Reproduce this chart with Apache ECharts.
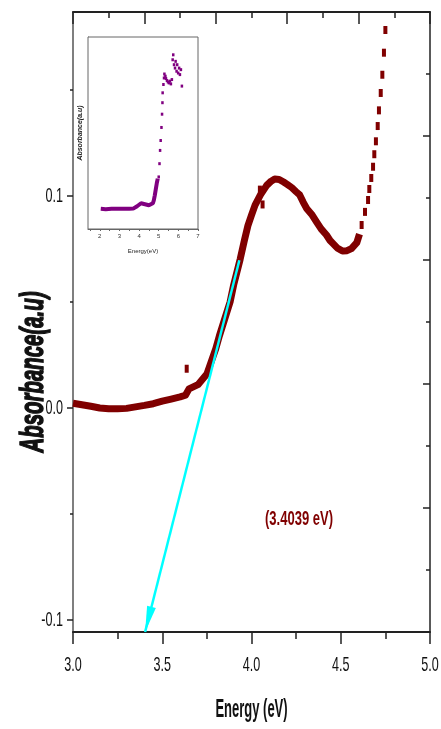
<!DOCTYPE html>
<html><head><meta charset="utf-8">
<script src="https://cdn.jsdelivr.net/npm/echarts@6/dist/echarts.min.js"></script>
<style>html,body{margin:0;padding:0;background:#fff}#c{width:441px;height:729px}</style>
</head><body><div id="c"></div>
<script>
// Main curve (dense part)
const mainEnergy = [3.00,3.05,3.10,3.15,3.20,3.25,3.30,3.35,3.40,3.45,3.50,3.55,3.60,3.63,3.65,3.70,3.75,3.80,3.82,3.85,3.88,3.90,3.936,3.96,3.98,4.00,4.02,4.05,4.085,4.11,4.13,4.155,4.18,4.20,4.225,4.25,4.27,4.29,4.31,4.34,4.365,4.39,4.42,4.44,4.457,4.48,4.51,4.535,4.56,4.59,4.605];
const mainAbs = [0.0022,0.0015,0.0008,0.0,-0.0004,-0.0004,-0.0002,0.0005,0.0012,0.002,0.0032,0.0042,0.0052,0.006,0.009,0.011,0.016,0.028,0.034,0.042,0.05,0.058,0.070,0.079,0.086,0.091,0.0957,0.1005,0.105,0.107,0.108,0.1078,0.1066,0.1055,0.104,0.102,0.1005,0.097,0.094,0.091,0.0877,0.0845,0.0816,0.079,0.0775,0.0755,0.074,0.0742,0.0752,0.078,0.082];
// Main curve (sparse points and outliers)
const sparseEnergy = [4.617,4.636,4.653,4.660,4.671,4.681,4.688,4.697,4.707,4.714,4.724,4.733,4.742,4.750,3.637,4.047,4.062];
const sparseAbs = [0.0863,0.0925,0.0981,0.1033,0.1085,0.1138,0.1197,0.1258,0.1330,0.1404,0.1486,0.1572,0.1676,0.1783,0.0185,0.103,0.096];
// Tangent line (start, end at band gap)
const tangentEnergy = [3.932, 3.4039];
const tangentAbs = [0.0697, -0.1057];
const bandGapLabel = '(3.4039 eV)';
// Inset curve
const insetEnergy = [2.05,2.3,2.6,2.9,3.2,3.5,3.7,3.8,3.9,4.0,4.1,4.2,4.3,4.4,4.5,4.6,4.7,4.75,4.8,4.85,4.9,4.95];
const insetAbs = [1.02,1.0,1.02,1.02,1.02,1.02,1.03,1.07,1.15,1.25,1.3,1.3,1.25,1.2,1.2,1.22,1.3,1.45,1.7,2.0,2.3,2.55];
const insetDotEnergy = [5.0,5.04,5.07,5.10,5.14,5.17,5.19,5.2,5.24,5.27,5.29,5.34,5.37,5.42,5.47,5.52,5.57,5.62,5.67,5.71,5.74,5.78,5.83,5.86,5.91,5.94,5.99,6.04,6.08,6.13,6.18];
const insetDotAbs = [2.63,3.3,3.97,4.47,5.13,5.8,6.38,6.88,7.3,7.63,7.83,7.72,7.6,7.5,7.43,7.38,7.47,7.33,7.55,8.55,8.8,8.3,8.13,8.47,7.97,8.3,7.88,8.13,7.8,8.05,7.22];
// Ticks and titles
const xTicks = [3.0, 3.5, 4.0, 4.5, 5.0];
const yMajorTicks = [-0.1, 0.0, 0.1];
const yMinorTicks = [-0.05, 0.05, 0.15];
const insetXLabels = [2,3,4,5,6,7];
const insetXTicks = [1.5,2,2.5,3,3.5,4,4.5,5,5.5,6,6.5,7];
const insetYTicks = [1,2,3,4,5,6,7,8,9];
const xTitle = 'Energy (eV)';
const yTitle = 'Absorbance(a.u)';

const F = "'Liberation Sans',Arial,sans-serif";
const SQ = 0.6; // horizontal squeeze of the source figure's text
const zip = (a,b) => a.map((v,i)=>[v,b[i]]);
const chart = echarts.init(document.getElementById('c'), null, {renderer:'canvas'});
const YMIN = -0.1057, YMAX = 0.1868;
chart.setOption({
  animation:false,
  backgroundColor:'#fff',
  grid:[
    {left:73, right:11, top:12, bottom:97, outerBoundsMode:'none'},
    {left:88, top:37, width:110, height:192, show:true, borderColor:'#666', borderWidth:1, backgroundColor:'#fff', z:5, outerBoundsMode:'none'}
  ],
  xAxis:[
    {gridIndex:0, type:'value', min:3, max:5, interval:0.5, position:'bottom',
     axisLine:{onZero:false, lineStyle:{color:'#222', width:2}},
     axisTick:{inside:false, length:12, lineStyle:{color:'#222', width:1.5}},
     minorTick:{show:true, splitNumber:2, length:7, lineStyle:{color:'#222', width:1.5}},
     splitLine:{show:false}, axisLabel:{show:false}},
    {gridIndex:0, type:'value', min:0, max:5, interval:1, position:'top',
     axisLine:{onZero:false, lineStyle:{color:'#222', width:2}},
     axisTick:{inside:true, length:12, lineStyle:{color:'#222', width:1.5}},
     minorTick:{show:true, splitNumber:2, length:6, lineStyle:{color:'#222', width:1.5}},
     splitLine:{show:false}, axisLabel:{show:false}},
    {gridIndex:1, type:'value', min:1.4, max:7, position:'bottom',
     axisLine:{onZero:false, lineStyle:{color:'#666', width:1}},
     axisTick:{inside:false, length:2, customValues:insetXTicks, lineStyle:{color:'#666'}},
     splitLine:{show:false},
     axisLabel:{customValues:insetXLabels, fontFamily:F, fontSize:6, margin:4, color:'#333'},
     name:'Energy(eV)', nameLocation:'middle', nameGap:19,
     nameTextStyle:{fontFamily:F, fontSize:6, color:'#222'}}
  ],
  yAxis:[
    {gridIndex:0, type:'value', min:YMIN, max:YMAX, position:'left',
     axisLine:{onZero:false, lineStyle:{color:'#555', width:1.5}},
     axisTick:{inside:false, length:6, customValues:yMajorTicks, lineStyle:{color:'#222', width:1.5}},
     splitLine:{show:false}, axisLabel:{show:false}},
    {gridIndex:0, type:'value', min:0, max:5, interval:1, position:'right',
     axisLine:{onZero:false, lineStyle:{color:'#222', width:1.5}},
     axisTick:{inside:true, length:7, lineStyle:{color:'#222', width:1.5}},
     minorTick:{show:true, splitNumber:2, length:4, lineStyle:{color:'#222', width:1.5}},
     splitLine:{show:false}, axisLabel:{show:false}},
    {gridIndex:1, type:'value', min:0, max:9.7, position:'left',
     axisLine:{onZero:false, lineStyle:{color:'#666', width:1}},
     axisTick:{inside:true, length:2, customValues:insetYTicks, lineStyle:{color:'#666'}},
     splitLine:{show:false}, axisLabel:{show:false},
     name:'Absorbance(a.u)', nameLocation:'middle', nameGap:4, nameRotate:90,
     nameTextStyle:{fontFamily:F, fontSize:7, fontWeight:'bold', fontStyle:'italic', color:'#222'}},
    {gridIndex:0, type:'value', min:YMIN, max:YMAX, position:'left',
     axisLine:{show:false},
     axisTick:{inside:false, length:3, customValues:yMinorTicks, lineStyle:{color:'#222', width:1.5}},
     splitLine:{show:false}, axisLabel:{show:false}}
  ],
  series:[
    {type:'line', xAxisIndex:0, yAxisIndex:0, data:zip(mainEnergy, mainAbs), showSymbol:false,
     lineStyle:{color:'#800000', width:7, join:'round', cap:'butt'}, z:3},
    {type:'scatter', xAxisIndex:0, yAxisIndex:0, data:zip(sparseEnergy, sparseAbs),
     symbol:'rect', symbolSize:[4,8], itemStyle:{color:'#800000', opacity:1}, z:3},
    {type:'line', xAxisIndex:0, yAxisIndex:0, data:zip(tangentEnergy, tangentAbs), showSymbol:false,
     lineStyle:{color:'#00FFFF', width:2.5}, z:4,
     markLine:{silent:true, symbol:['none','none'], label:{show:false}, animation:false,
       lineStyle:{color:'#00FFFF', width:0, opacity:1, type:'solid'},
       data:[[{coord:[tangentEnergy[0], tangentAbs[0]]},
              {coord:[tangentEnergy[1], tangentAbs[1]], symbol:'path://M4,0 L8,26 L0,26 Z', symbolSize:[9,26], symbolOffset:[0,13]}]]}},
    {type:'line', xAxisIndex:2, yAxisIndex:2, data:zip(insetEnergy, insetAbs), showSymbol:false,
     lineStyle:{color:'#800080', width:4}, z:6},
    {type:'scatter', xAxisIndex:2, yAxisIndex:2, data:zip(insetDotEnergy, insetDotAbs),
     symbol:'rect', symbolSize:[2.5,3], itemStyle:{color:'#800080', opacity:1}, z:6}
  ]
});

// Text labels placed from the library's own axis scales (squeezed horizontally like the source)
const px = v => chart.convertToPixel({xAxisIndex:0}, v);
const py = v => chart.convertToPixel({yAxisIndex:0}, v);
const xAxisY = py(YMIN);
const yAxisX = px(3.0);
const g = [];
xTicks.forEach(v => g.push({type:'text', x:px(v), y:xAxisY+33, scaleX:SQ, z:20,
  style:{text:v.toFixed(1), font:"21px "+F, fill:'#111', textAlign:'center', textVerticalAlign:'middle'}}));
yMajorTicks.forEach(v => g.push({type:'text', x:yAxisX-10, y:py(v), scaleX:SQ, z:20,
  style:{text:v.toFixed(1), font:"21px "+F, fill:'#111', textAlign:'right', textVerticalAlign:'middle'}}));
g.push({type:'text', x:(px(3)+px(5))/2, y:xAxisY+78, scaleX:0.5, z:20,
  style:{text:xTitle, font:"bold 26px "+F, fill:'#111', textAlign:'center', textVerticalAlign:'middle'}});
g.push({type:'text', x:yAxisX-39, y:py(0.0)-36, rotation:Math.PI/2, scaleX:0.6, z:20,
  style:{text:yTitle, font:"italic bold 34px "+F, fill:'#111', stroke:'#111', lineWidth:1.5, textAlign:'center', textVerticalAlign:'middle'}});
g.push({type:'text', x:299, y:519, scaleX:0.62, z:20,
  style:{text:bandGapLabel, font:"bold 21px "+F, fill:'#800000', textAlign:'center', textVerticalAlign:'middle'}});
chart.setOption({graphic:g});
</script>
</body></html>
